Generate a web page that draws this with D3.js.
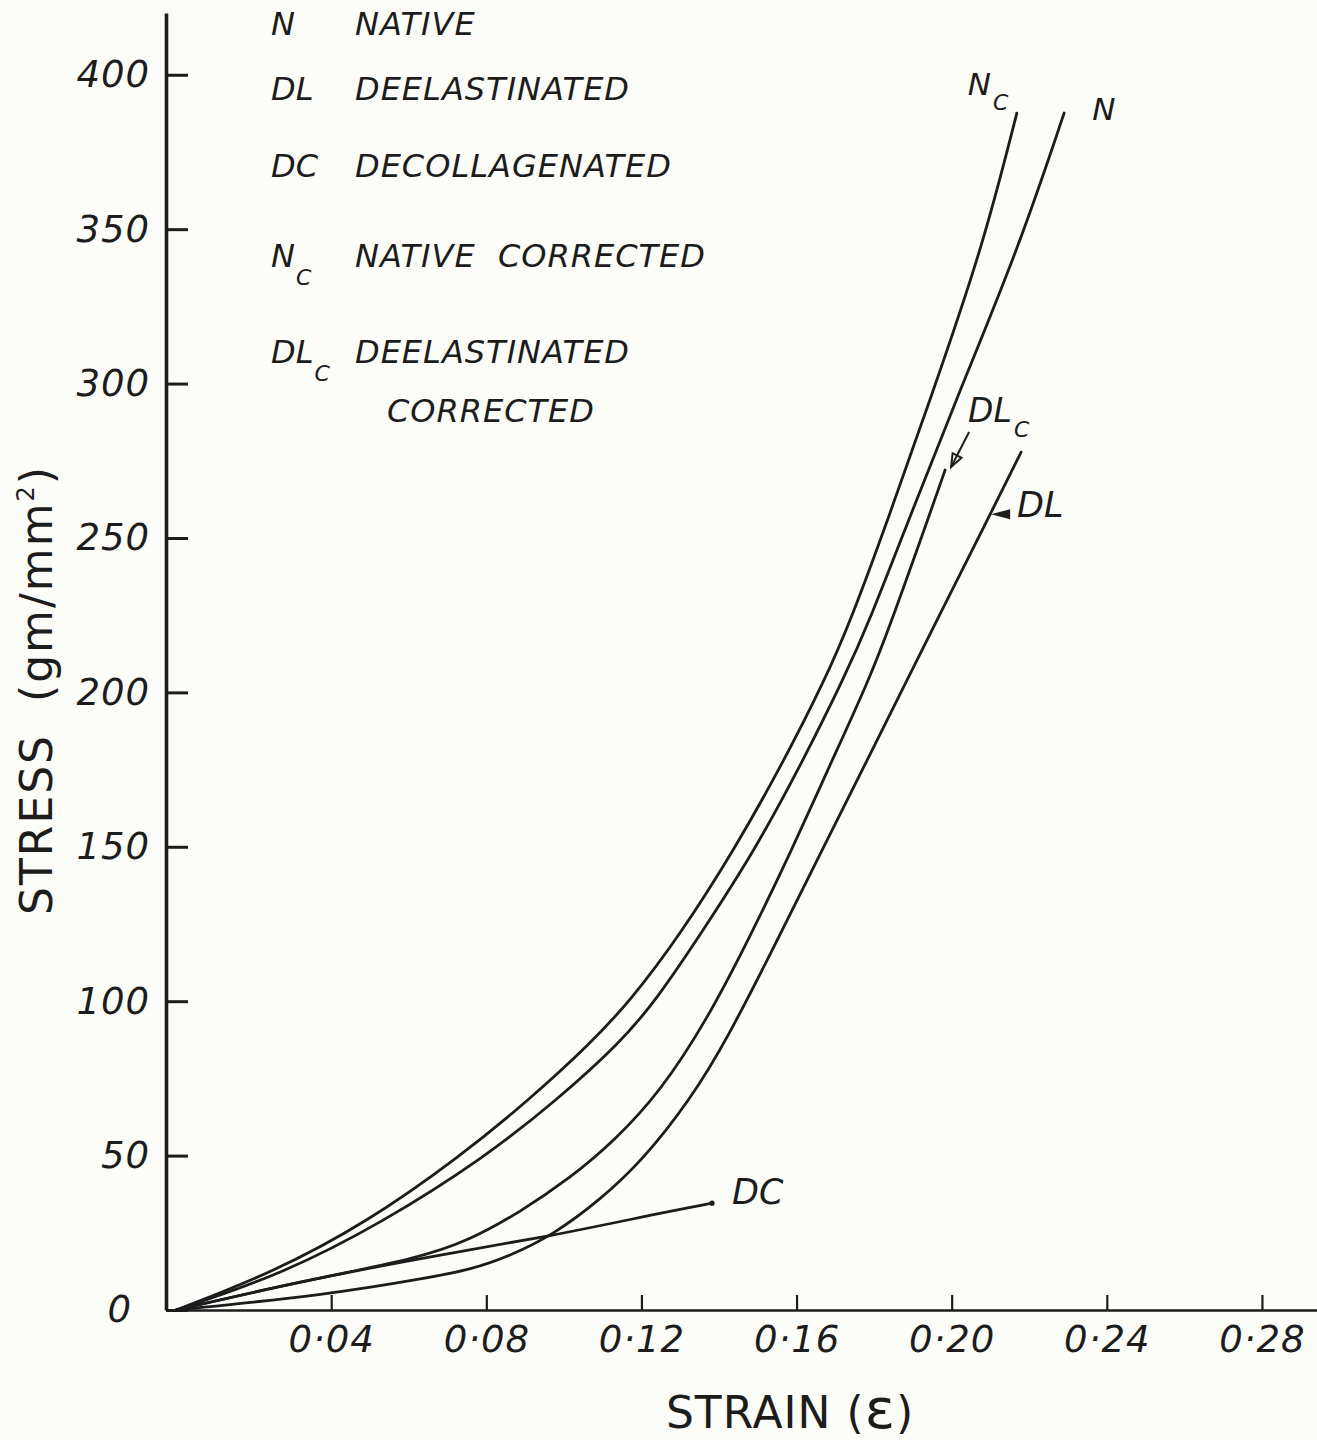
<!DOCTYPE html>
<html>
<head>
<meta charset="utf-8">
<script src="https://cdn.jsdelivr.net/npm/d3@7/dist/d3.min.js"></script>
<style>
  body { margin: 0; background: #fcfcf8; }
  svg { display: block; }
  text { font-family: "DejaVu Sans", sans-serif; fill: #1c1c1c; white-space: pre; }
</style>
</head>
<body>
<div id="chart"></div>
<script>
// [strain, stress (gm/mm2)]
const nativeCorrected = [
  [0, 0], [0.0247, 12], [0.049, 28.2], [0.073, 49.5], [0.091, 68], [0.107, 86.5],
  [0.1173, 100.4], [0.1299, 121.4], [0.1439, 149], [0.1562, 176.5], [0.1673, 204],
  [0.174, 223.4], [0.1838, 256.8], [0.1944, 294.7], [0.2078, 343.3], [0.2168, 387.6]
];
const native = [
  [0, 0], [0.0268, 11.3], [0.0531, 28.2], [0.0797, 49.5], [0.0982, 68], [0.1145, 86.5],
  [0.1238, 100.4], [0.1351, 121.4], [0.1493, 149], [0.1611, 176.5], [0.172, 204],
  [0.1789, 223.4], [0.1892, 256.8], [0.2011, 294.7], [0.2171, 343.3], [0.229, 387.6]
];
const deelastinatedCorrected = [
  [0, 0], [0.0301, 8.7], [0.0629, 16.8], [0.0758, 22.7], [0.0887, 31.7], [0.1016, 42.7],
  [0.1132, 55], [0.1248, 70.6], [0.1369, 93.9], [0.1482, 121.4], [0.1588, 149],
  [0.1686, 176.5], [0.1787, 204], [0.1846, 223.4], [0.1941, 256.8], [0.1983, 272]
];
const deelastinated = [
  [0, 0], [0.0389, 4.9], [0.0647, 10.4], [0.0758, 13], [0.0861, 17.5], [0.0972, 24.3],
  [0.1093, 35.6], [0.1204, 48.6], [0.1325, 68], [0.142, 87.4], [0.1557, 121.4],
  [0.1666, 149], [0.1776, 176.5], [0.1885, 204], [0.1962, 223.4], [0.2096, 256.8], [0.2179, 277.8]
];
const decollagenated = [
  [0, 0], [0.0301, 8.7], [0.0629, 16.8], [0.0972, 24], [0.1248, 31.4], [0.1382, 34.6]
];

const strainTicks = [0.04, 0.08, 0.12, 0.16, 0.2, 0.24, 0.28];
const stressTicks = [0, 50, 100, 150, 200, 250, 300, 350, 400];

const legendCodes = ["N", "DL", "DC", "N", "DL"];
const legendSubs = ["", "", "", "C", "C"];
const legendNames = ["NATIVE", "DEELASTINATED", "DECOLLAGENATED", "NATIVE  CORRECTED", "DEELASTINATED"];
const legendExtra = ["", "", "", "", "CORRECTED"];

const ink = "#1c1c1c";
const width = 1317, height = 1440;

const svg = d3.select("#chart").append("svg")
  .attr("width", width)
  .attr("height", height);

const x = d3.scaleLinear().domain([-0.0026, 0.2942]).range([166, 1317]);
const y = d3.scaleLinear().domain([0, 420]).range([1310, 13]);

const fmt = (d) => d3.format(".2f")(d).replace(".", "·");

// x axis, ticks pointing up into the plot
const xAxis = svg.append("g")
  .attr("transform", `translate(0,${y(0)})`)
  .call(d3.axisBottom(x).tickValues(strainTicks).tickFormat(fmt)
    .tickSize(-15).tickSizeOuter(0).tickPadding(16));
xAxis.attr("font-size", null).attr("font-family", null);
xAxis.select(".domain").attr("stroke", ink).attr("stroke-width", 2.6);
xAxis.selectAll(".tick line").attr("stroke", ink).attr("stroke-width", 2.2);
xAxis.selectAll(".tick text")
  .style("font-size", "37px").style("font-style", "italic").style("letter-spacing", "1px");

// y axis, ticks pointing right
const yAxis = svg.append("g")
  .attr("transform", `translate(${x.range()[0]},0)`)
  .call(d3.axisLeft(y).tickValues(stressTicks)
    .tickSize(-22).tickSizeOuter(0).tickPadding(16));
yAxis.attr("font-size", null).attr("font-family", null);
yAxis.select(".domain").attr("stroke", ink).attr("stroke-width", 3.6);
yAxis.selectAll(".tick line").attr("stroke", ink).attr("stroke-width", 3);
yAxis.selectAll(".tick text")
  .style("font-size", "37px").style("font-style", "italic").style("letter-spacing", "1px")
  .attr("dx", (d) => (d === 0 ? -18 : 0));

// axis titles
const yTitle = svg.append("text")
  .attr("transform", "translate(52,690) rotate(-90)")
  .attr("text-anchor", "middle")
  .style("font-size", "44px")
  .style("letter-spacing", "2px");
yTitle.append("tspan").text("STRESS  (gm/mm");
yTitle.append("tspan").attr("dy", -18).style("font-size", "24px").text("2");
yTitle.append("tspan").attr("dy", 18).text(")");

const xTitle = svg.append("text")
  .attr("x", 790).attr("y", 1428)
  .attr("text-anchor", "middle")
  .style("font-size", "44px")
  .style("letter-spacing", "1px");
xTitle.append("tspan").text("STRAIN (");
xTitle.append("tspan").style("font-size", "56px").text("ε");
xTitle.append("tspan").text(")");

// curves, smoothed like a hand-drawn french-curve trace
const line = d3.line()
  .x((d) => x(d[0]))
  .y((d) => y(d[1]))
  .curve(d3.curveBasis);

const series = [nativeCorrected, native, deelastinatedCorrected, deelastinated, decollagenated];
svg.append("g").selectAll("path")
  .data(series)
  .join("path")
  .attr("d", line)
  .attr("fill", "none")
  .attr("stroke", ink)
  .attr("stroke-width", 2.8)
  .attr("stroke-linecap", "round");

const endOf = (s) => [x(s[s.length - 1][0]), y(s[s.length - 1][1])];

// DC end dot
const [dcx, dcy] = endOf(decollagenated);
svg.append("circle").attr("cx", dcx).attr("cy", dcy).attr("r", 2.6).attr("fill", ink);

// curve labels
const curveLabel = (px, py, main, sub, size) => {
  const t = svg.append("text").attr("x", px).attr("y", py)
    .style("font-size", size + "px").style("font-style", "italic");
  t.append("tspan").text(main);
  if (sub) t.append("tspan").attr("dx", 2).attr("dy", 15).style("font-size", "22px").text(sub);
};

const [ncx, ncy] = endOf(nativeCorrected);
curveLabel(ncx - 49, ncy - 18, "N", "C", 31);
const [nx, ny] = endOf(native);
curveLabel(nx + 28, ny + 7, "N", "", 31);
const [dlcx, dlcy] = endOf(deelastinatedCorrected);
curveLabel(dlcx + 23, dlcy - 48, "DL", "C", 33);
const [dlx, dly] = endOf(deelastinated);
curveLabel(dlx - 4, dly + 65, "DL", "", 35);
curveLabel(dcx + 20, dcy + 1, "DC", "", 35);

// DLc arrow
const tail = [dlcx + 24, dlcy - 38], tip = [dlcx + 6, dlcy - 3];
const ang = Math.atan2(tip[1] - tail[1], tip[0] - tail[0]);
svg.append("line")
  .attr("x1", tail[0]).attr("y1", tail[1]).attr("x2", tip[0]).attr("y2", tip[1])
  .attr("stroke", ink).attr("stroke-width", 2);
const head = [
  tip,
  [tip[0] - 13 * Math.cos(ang) + 5 * Math.sin(ang), tip[1] - 13 * Math.sin(ang) - 5 * Math.cos(ang)],
  [tip[0] - 13 * Math.cos(ang) - 5 * Math.sin(ang), tip[1] - 13 * Math.sin(ang) + 5 * Math.cos(ang)]
];
svg.append("path").attr("d", d3.line()(head) + "Z")
  .attr("fill", "none").attr("stroke", ink).attr("stroke-width", 2);

// DL arrow (small filled head pointing at the curve)
const dlTip = [dlx - 30, dly + 62];
svg.append("path")
  .attr("d", d3.line()([dlTip, [dlTip[0] + 19, dlTip[1] - 5], [dlTip[0] + 19, dlTip[1] + 5]]) + "Z")
  .attr("fill", ink);

// legend
const legendRowY = [35, 100, 177, 267, 363];
const legend = svg.append("g").style("font-size", "32px").style("font-style", "italic");
legendCodes.forEach((code, i) => {
  const t = legend.append("text").attr("x", 271).attr("y", legendRowY[i]);
  t.append("tspan").text(code);
  if (legendSubs[i]) {
    t.append("tspan").attr("dx", 1).attr("dy", 18).style("font-size", "22px").text(legendSubs[i]);
  }
  legend.append("text").attr("x", 355).attr("y", legendRowY[i])
    .style("letter-spacing", "1px").text(legendNames[i]);
  if (legendExtra[i]) {
    legend.append("text").attr("x", 387).attr("y", legendRowY[i] + 59)
      .style("letter-spacing", "1px").text(legendExtra[i]);
  }
});
</script>
</body>
</html>
